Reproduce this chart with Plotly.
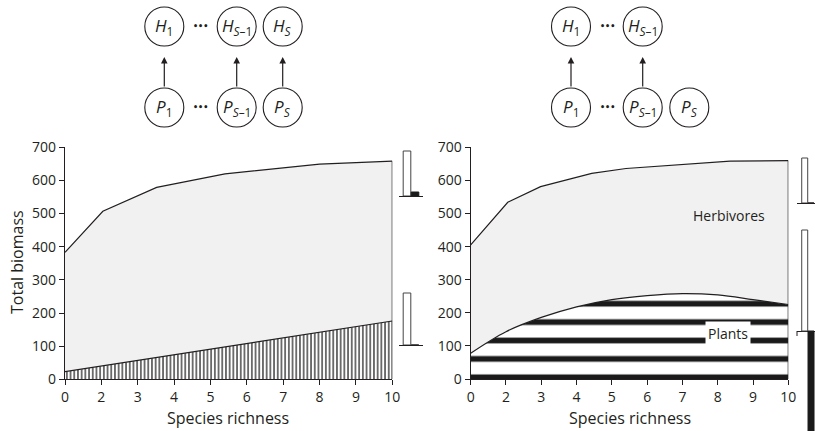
import plotly.graph_objects as go

W, H = 815, 431

# ---------------- data ----------------
# x axis: ten evenly spaced ticks, the first one labelled "0"
tick_pos = [1, 2, 3, 4, 5, 6, 7, 8, 9, 10]
tick_lbl = ["0", "2", "3", "4", "5", "6", "7", "8", "9", "10"]
y_ticks = [0, 100, 200, 300, 400, 500, 600, 700]

# left panel (all species linked)
left_herb_x = [1, 2.04, 3.52, 5.4, 8.0, 10]
left_herb_y = [383, 507, 579, 620, 649, 658]
left_plant_x = [1, 10]
left_plant_y = [23, 176]

# right panel (one plant without herbivore)
right_herb_x = [1, 2.05, 2.98, 4.43, 5.4, 8.35, 10]
right_herb_y = [405, 534, 581, 621, 636, 658, 660]
right_plant_x = [1, 2, 3, 4, 5, 6, 7, 8, 9, 10]
right_plant_y = [78, 143, 186, 218, 240, 252, 258, 254, 240, 225]

# small side bar charts (white bar, black bar)
mini_left_top = [45, 4]
mini_left_bottom = [52, 0]
mini_right_top = [45, 0]
mini_right_bottom = [101, -120]

# food-web diagram labels
left_top_lbl = ["<i>H</i><sub>1</sub>", "<i>H</i><sub><i>S</i>–1</sub>", "<i>H</i><sub><i>S</i></sub>"]
left_bot_lbl = ["<i>P</i><sub>1</sub>", "<i>P</i><sub><i>S</i>–1</sub>", "<i>P</i><sub><i>S</i></sub>"]
right_top_lbl = ["<i>H</i><sub>1</sub>", "<i>H</i><sub><i>S</i>–1</sub>"]
right_bot_lbl = ["<i>P</i><sub>1</sub>", "<i>P</i><sub><i>S</i>–1</sub>", "<i>P</i><sub><i>S</i></sub>"]

FONT = "Open Sans"
INK = "#231f20"
GRAY = "#f1f1f1"


def px_x(a, b):
    return [a / W, b / W]


def px_y(top, bottom):
    return [1 - bottom / H, 1 - top / H]


fig = go.Figure()


def add_panel(hx, hy, px_, py_, xa, ya, pattern, shape):
    # plant area
    fig.add_trace(go.Scatter(x=px_, y=py_, mode="lines", fill="tozeroy",
                             fillpattern=pattern, line=dict(color=INK, width=1.2, shape=shape),
                             xaxis=xa, yaxis=ya, hoverinfo="skip", showlegend=False))
    # herbivore band (between plant and herbivore curves)
    fig.add_trace(go.Scatter(x=hx, y=hy, mode="lines", fill="tonexty",
                             fillcolor=GRAY, line=dict(color=INK, width=1.2),
                             xaxis=xa, yaxis=ya, hoverinfo="skip", showlegend=False))
    # closing edge at the right end
    fig.add_trace(go.Scatter(x=[hx[-1], hx[-1]], y=[0, hy[-1]], mode="lines",
                             line=dict(color=INK, width=1.2),
                             xaxis=xa, yaxis=ya, hoverinfo="skip", showlegend=False))


add_panel(left_herb_x, left_herb_y, left_plant_x, left_plant_y, "x", "y",
          dict(shape="|", size=3.7, solidity=0.35, fgcolor="#2a2a2a", fgopacity=1,
               bgcolor="white"), "linear")
add_panel(right_herb_x, right_herb_y, right_plant_x, right_plant_y, "x2", "y2",
          dict(shape="-", size=18.4, solidity=0.31, fgcolor="#1a1a1a", fgopacity=1,
               bgcolor="white"), "spline")

# mini bar charts
minis = [(mini_left_top, "x3", "y3"), (mini_left_bottom, "x4", "y4"),
         (mini_right_top, "x5", "y5"), (mini_right_bottom, "x6", "y6")]
for vals, xa, ya in minis:
    fig.add_trace(go.Bar(x=[0, 1], y=vals, width=[0.95, 0.95],
                         marker=dict(color=["white", "#1a1a1a"],
                                     line=dict(color=["#444444", "#1a1a1a"], width=1)),
                         xaxis=xa, yaxis=ya, hoverinfo="skip", showlegend=False))

axis_common = dict(showline=True, linecolor=INK, linewidth=1.2, ticks="outside",
                   ticklen=5, tickwidth=1, tickcolor=INK, showgrid=False, zeroline=False,
                   automargin=False, tickfont=dict(family=FONT, size=14, color=INK))

layout = dict(
    width=W, height=H, autosize=False,
    margin=dict(l=0, r=0, t=0, b=0, pad=0, autoexpand=False),
    paper_bgcolor="white", plot_bgcolor="rgba(0,0,0,0)", showlegend=False,
    xaxis=dict(domain=px_x(65, 392.3), range=[1, 10], tickvals=tick_pos, ticktext=tick_lbl,
               anchor="y", **axis_common),
    yaxis=dict(domain=px_y(147.3, 379.3), range=[0, 700], tickvals=y_ticks,
               anchor="x", **axis_common),
    xaxis2=dict(domain=px_x(470.7, 788.3), range=[1, 10], tickvals=tick_pos, ticktext=tick_lbl,
                anchor="y2", **axis_common),
    yaxis2=dict(domain=px_y(147.3, 379), range=[0, 700], tickvals=y_ticks,
                anchor="x2", **axis_common),
)

mini_axes = {
    "3": (px_x(399, 423), [-1, 2], px_y(146, 196), [0, 50]),
    "4": (px_x(399, 423), [-1, 2], px_y(290, 345), [0, 55]),
    "5": (px_x(796.7, 815), [-1.27, 1.63], px_y(153, 203), [0, 50]),
    "6": (px_x(796.7, 815), [-1.27, 1.63], px_y(225, 431), [-100, 106]),
}
for k, (dx, rx, dy, ry) in mini_axes.items():
    layout["xaxis" + k] = dict(domain=dx, range=rx, visible=False, anchor="y" + k)
    layout["yaxis" + k] = dict(domain=dy, range=ry, showgrid=False, showticklabels=False,
                               showline=False, ticks="", zeroline=True, zerolinecolor=INK,
                               zerolinewidth=1.2, anchor="x" + k)

# overlay axis in pixel units for diagrams and titles
layout["xaxis7"] = dict(domain=[0, 1], range=[0, W], visible=False, anchor="y7")
layout["yaxis7"] = dict(domain=[0, 1], range=[H, 0], visible=False, anchor="x7")
fig.add_trace(go.Scatter(x=[0], y=[0], mode="markers", marker=dict(opacity=0),
                         xaxis="x7", yaxis="y7", hoverinfo="skip", showlegend=False))

fig.update_layout(**layout)

shapes = []
annotations = []
R = 19.5
ROW_H, ROW_P = 26.5, 107.5

# small step at the base of the lower right bar chart
shapes.append(dict(type="line", xref="x7", yref="y7", x0=797, x1=797, y0=331, y1=336,
                   line=dict(color=INK, width=1)))


def node(cx, cy, label):
    shapes.append(dict(type="circle", xref="x7", yref="y7", x0=cx - R, x1=cx + R,
                       y0=cy - R, y1=cy + R, line=dict(color=INK, width=1.1),
                       fillcolor="white", layer="above"))
    annotations.append(dict(x=cx, y=cy, xref="x7", yref="y7", text=label, showarrow=False,
                            font=dict(family=FONT, size=17, color=INK)))


def dots(cx, cy):
    annotations.append(dict(x=cx, y=cy, xref="x7", yref="y7", text="<b>•••</b>",
                            showarrow=False, font=dict(family="DejaVu Sans", size=8, color=INK)))


def arrow(cx):
    annotations.append(dict(x=cx, y=57, ax=cx, ay=ROW_P - R, xref="x7", yref="y7",
                            axref="x7", ayref="y7", text="", showarrow=True,
                            arrowhead=2, arrowsize=1.1, arrowwidth=1.2, arrowcolor=INK))


left_cx = [164.3, 236.7, 282.7]
for cx, lt, lb in zip(left_cx, left_top_lbl, left_bot_lbl):
    node(cx, ROW_H, lt)
    node(cx, ROW_P, lb)
    arrow(cx)
dots(200, ROW_H)
dots(200, ROW_P)

right_cx = [571, 642.7, 689.3]
for i, (cx, lb) in enumerate(zip(right_cx, right_bot_lbl)):
    node(cx, ROW_P, lb)
    if i < len(right_top_lbl):
        node(cx, ROW_H, right_top_lbl[i])
        arrow(cx)
dots(607, ROW_H)
dots(607, ROW_P)

# axis titles
annotations.append(dict(x=17, y=262, xref="x7", yref="y7", text="Total biomass", textangle=-90,
                        showarrow=False, font=dict(family=FONT, size=16, color=INK)))
annotations.append(dict(x=228, y=418, xref="x7", yref="y7", text="Species richness",
                        showarrow=False, font=dict(family=FONT, size=16, color=INK)))
annotations.append(dict(x=630, y=418, xref="x7", yref="y7", text="Species richness",
                        showarrow=False, font=dict(family=FONT, size=16, color=INK)))

# in-panel labels
annotations.append(dict(x=8.32, y=493, xref="x2", yref="y2", text="Herbivores",
                        showarrow=False, font=dict(family=FONT, size=14, color=INK)))
annotations.append(dict(x=8.29, y=136, xref="x2", yref="y2", text="Plants", bgcolor="white",
                        borderpad=2, showarrow=False, font=dict(family=FONT, size=14, color=INK)))

fig.update_layout(shapes=shapes, annotations=annotations)

fig.write_html("out.html")
